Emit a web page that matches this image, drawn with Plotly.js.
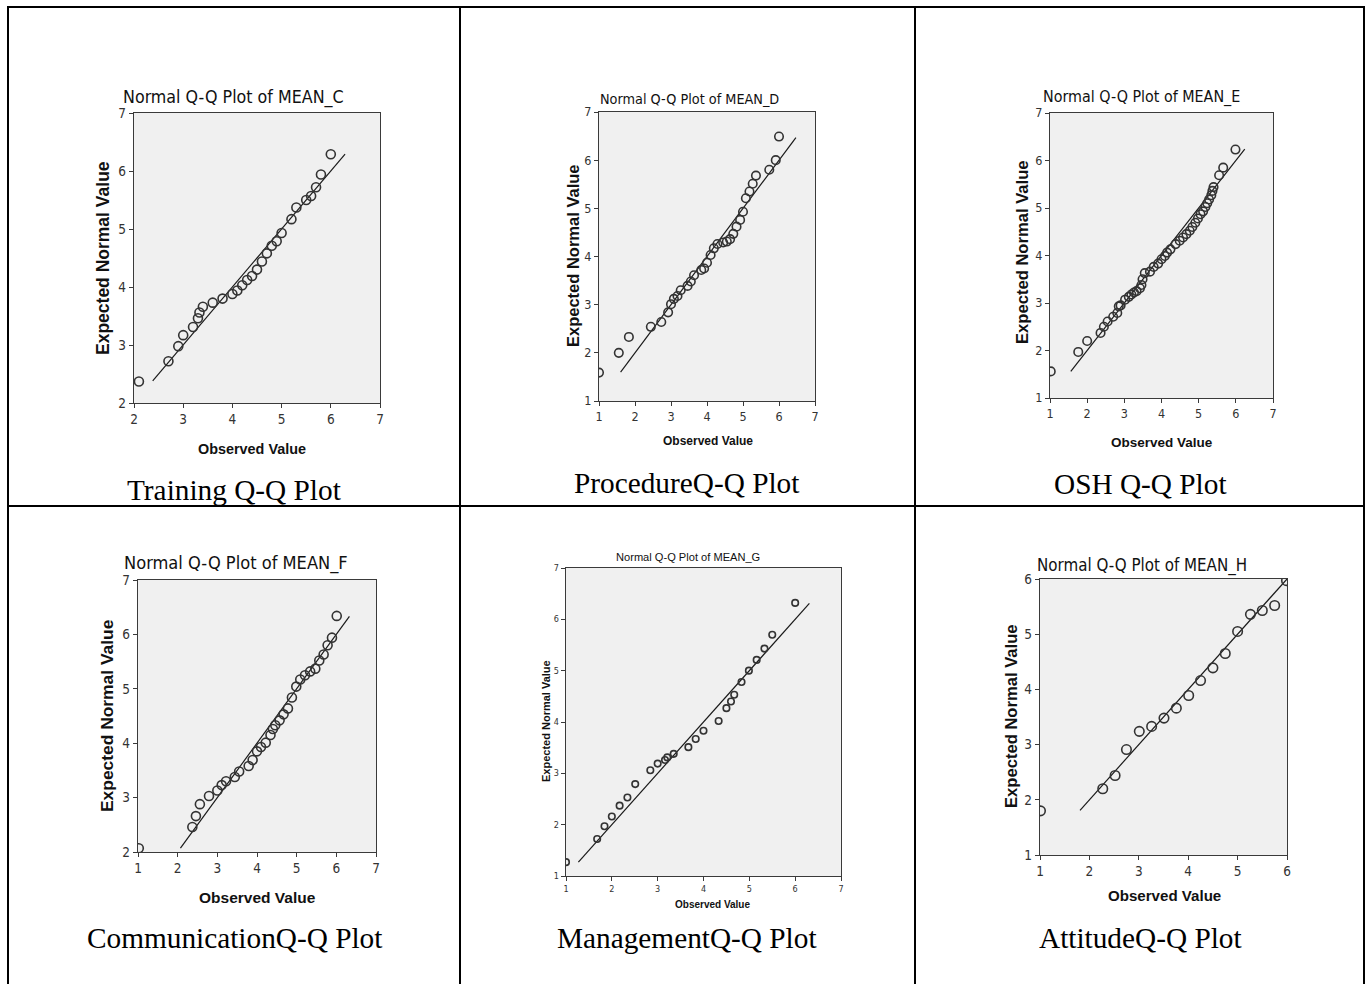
<!DOCTYPE html>
<html>
<head>
<meta charset="utf-8">
<script src="https://cdn.plot.ly/plotly-3.0.1.min.js"></script>
<style>
  html, body { margin: 0; padding: 0; background: #ffffff; }
  #chart { width: 1366px; height: 984px; }
</style>
</head>
<body>
<div id="chart"></div>
<script>
// ---------------- DATA ----------------
// Training (MEAN_C)
const trainingObs = [2.1, 2.7, 2.9, 3.0, 3.2, 3.3, 3.33, 3.4, 3.6, 3.8, 4.0, 4.1, 4.2, 4.3, 4.4, 4.5, 4.6, 4.7, 4.8, 4.9, 5.0, 5.2, 5.3, 5.5, 5.6, 5.7, 5.8, 6.0];
const trainingExp = [2.37, 2.72, 2.98, 3.17, 3.31, 3.46, 3.56, 3.66, 3.73, 3.80, 3.88, 3.94, 4.03, 4.12, 4.19, 4.30, 4.44, 4.58, 4.71, 4.79, 4.93, 5.17, 5.37, 5.50, 5.57, 5.72, 5.94, 6.29];
const trainingLine = [2.38, 6.29];

// Procedure (MEAN_D)
const procedureObs = [1.0, 1.55, 1.83, 2.44, 2.73, 2.92, 3.0, 3.08, 3.18, 3.27, 3.46, 3.55, 3.64, 3.84, 3.92, 4.0, 4.1, 4.19, 4.29, 4.45, 4.55, 4.64, 4.73, 4.82, 4.92, 5.0, 5.08, 5.18, 5.27, 5.36, 5.73, 5.91, 6.0];
const procedureExp = [1.59, 2.0, 2.33, 2.54, 2.64, 2.84, 3.01, 3.12, 3.18, 3.30, 3.39, 3.48, 3.61, 3.72, 3.75, 3.87, 4.03, 4.17, 4.26, 4.29, 4.31, 4.36, 4.47, 4.62, 4.76, 4.93, 5.21, 5.35, 5.51, 5.68, 5.80, 6.0, 6.49];
const procedureLine = [1.60, 6.47];

// OSH (MEAN_E)
const oshObs = [1.02, 1.76, 2.0, 2.36, 2.45, 2.55, 2.7, 2.81, 2.85, 2.9, 3.02, 3.12, 3.19, 3.26, 3.33, 3.42, 3.46, 3.49, 3.55, 3.69, 3.79, 3.91, 4.0, 4.09, 4.15, 4.24, 4.38, 4.49, 4.58, 4.67, 4.76, 4.83, 4.91, 4.98, 5.05, 5.12, 5.18, 5.23, 5.28, 5.34, 5.37, 5.4, 5.55, 5.66, 5.99];
const oshExp = [1.56, 1.97, 2.2, 2.37, 2.5, 2.61, 2.71, 2.79, 2.93, 2.95, 3.07, 3.13, 3.18, 3.22, 3.25, 3.31, 3.38, 3.5, 3.63, 3.66, 3.76, 3.83, 3.92, 3.99, 4.06, 4.13, 4.24, 4.31, 4.38, 4.45, 4.52, 4.60, 4.69, 4.78, 4.87, 4.93, 5.02, 5.1, 5.18, 5.27, 5.36, 5.44, 5.69, 5.85, 6.23];
const oshLine = [1.56, 6.24];

// Communication (MEAN_F)
const communicationObs = [1.02, 2.37, 2.46, 2.56, 2.79, 3.0, 3.11, 3.22, 3.44, 3.55, 3.79, 3.89, 4.0, 4.1, 4.22, 4.34, 4.4, 4.46, 4.57, 4.67, 4.78, 4.88, 4.99, 5.09, 5.21, 5.34, 5.47, 5.57, 5.68, 5.78, 5.89, 6.01];
const communicationExp = [2.07, 2.46, 2.66, 2.88, 3.03, 3.13, 3.23, 3.30, 3.38, 3.48, 3.58, 3.69, 3.85, 3.93, 4.01, 4.15, 4.26, 4.33, 4.42, 4.53, 4.64, 4.84, 5.04, 5.17, 5.25, 5.32, 5.37, 5.52, 5.63, 5.80, 5.94, 6.34];
const communicationLine = [2.07, 6.33];

// Management (MEAN_G)
const managementObs = [1.0, 1.68, 1.84, 2.0, 2.17, 2.34, 2.51, 2.84, 3.0, 3.16, 3.21, 3.35, 3.67, 3.83, 4.0, 4.33, 4.5, 4.6, 4.67, 4.83, 4.99, 5.16, 5.33, 5.5, 6.0];
const managementExp = [1.27, 1.72, 1.97, 2.16, 2.37, 2.53, 2.79, 3.06, 3.19, 3.26, 3.31, 3.38, 3.51, 3.67, 3.83, 4.02, 4.27, 4.40, 4.53, 4.78, 5.0, 5.21, 5.43, 5.7, 6.32];
const managementLine = [1.27, 6.31];

// Attitude (MEAN_H)
const attitudeObs = [1.01, 2.27, 2.52, 2.75, 3.01, 3.26, 3.51, 3.76, 4.01, 4.25, 4.5, 4.75, 5.0, 5.26, 5.5, 5.75, 5.99];
const attitudeExp = [1.8, 2.2, 2.44, 2.91, 3.24, 3.33, 3.48, 3.66, 3.89, 4.16, 4.39, 4.65, 5.05, 5.36, 5.43, 5.52, 5.97];
const attitudeLine = [1.81, 6.0];

const plotTitles = ["Normal Q-Q Plot of MEAN_C", "Normal Q-Q Plot of MEAN_D", "Normal Q-Q Plot of MEAN_E",
                    "Normal Q-Q Plot of MEAN_F", "Normal Q-Q Plot of MEAN_G", "Normal Q-Q Plot of MEAN_H"];
const captions = ["Training Q-Q Plot", "ProcedureQ-Q Plot", "OSH Q-Q Plot",
                  "CommunicationQ-Q Plot", "ManagementQ-Q Plot", "AttitudeQ-Q Plot"];
const xAxisLabel = "Observed Value";
const yAxisLabel = "Expected Normal Value";
const xRanges = [[2, 7], [1, 7], [1, 7], [1, 7], [1, 7], [1, 6]];
const yRanges = [[2, 7], [1, 7], [1, 7], [2, 7], [1, 7], [1, 6]];

// ---------------- LAYOUT (pixel geometry) ----------------
const W = 1366, H = 984;
const px = v => v / W;
const py = v => 1 - v / H;
const NARROW = '"Liberation Sans Narrow", "Arial Narrow", "DejaVu Sans Condensed", sans-serif';
const SANS = '"Liberation Sans", Arial, sans-serif';
const SERIF = '"Liberation Serif", "Times New Roman", serif';

const panels = [
  { obs: trainingObs, exp: trainingExp, line: trainingLine,
    box: [134, 113, 380, 403], title: [233, 97, 17.7], ytl: [103, 258, 17.5], xtl: [252, 449, 14.4], tick: 13.5, ms: 9, cap: [234, 490] },
  { obs: procedureObs, exp: procedureExp, line: procedureLine,
    box: [599, 112, 815, 401], title: [689, 99, 14.3], ytl: [573, 256, 16.5], xtl: [708, 441, 12], tick: 12.5, ms: 8.5, cap: [687, 483] },
  { obs: oshObs, exp: oshExp, line: oshLine,
    box: [1050, 113, 1273, 398], title: [1141, 97, 15.9], ytl: [1022, 252, 16.6], xtl: [1162, 442, 13.5], tick: 12.5, ms: 8.5, cap: [1140, 484] },
  { obs: communicationObs, exp: communicationExp, line: communicationLine,
    box: [138, 580, 376, 852], title: [236, 563, 18.1], ytl: [107, 716, 17.4], xtl: [257, 897, 15.5], tick: 13.5, ms: 9, cap: [234, 938] },
  { obs: managementObs, exp: managementExp, line: managementLine,
    box: [566, 568, 841, 876], title: [688, 557, 11.1], ytl: [546, 721, 11], xtl: [712, 904, 10], tick: 9, ms: 6.5, cap: [687, 938] },
  { obs: attitudeObs, exp: attitudeExp, line: attitudeLine,
    box: [1040, 579, 1287, 855], title: [1142, 565, 16.8], ytl: [1011, 716, 16.6], xtl: [1164, 895, 15.1], tick: 13.5, ms: 9.5, cap: [1140, 938] }
];

const traces = [];
const layout = {
  width: W, height: H,
  margin: { l: 0, r: 0, t: 0, b: 0 },
  paper_bgcolor: '#ffffff',
  showlegend: false,
  annotations: [],
  shapes: []
};

panels.forEach((p, i) => {
  const n = i + 1;
  const xa = 'xaxis' + (n === 1 ? '' : n), ya = 'yaxis' + (n === 1 ? '' : n);
  const xr = 'x' + (n === 1 ? '' : n), yr = 'y' + (n === 1 ? '' : n);
  const axisCommon = {
    showgrid: false, zeroline: false,
    showline: true, mirror: true, linecolor: '#3a3a3a', linewidth: 1.2,
    ticks: 'outside', ticklen: 4, tickcolor: '#3a3a3a', tickwidth: 1,
    dtick: 1, fixedrange: true,
    tickfont: { family: NARROW, size: p.tick, color: '#333333' }
  };
  layout[xa] = Object.assign({}, axisCommon, {
    domain: [px(p.box[0]), px(p.box[2])], range: xRanges[i], tick0: xRanges[i][0],
    anchor: yr, ticklabelstandoff: 0
  });
  layout[ya] = Object.assign({}, axisCommon, {
    domain: [py(p.box[3]), py(p.box[1])], range: yRanges[i], tick0: yRanges[i][0],
    anchor: xr, ticklabelstandoff: 0
  });
  // plot background box
  layout.shapes.push({ type: 'rect', xref: 'paper', yref: 'paper', layer: 'below',
    x0: px(p.box[0]), x1: px(p.box[2]), y0: py(p.box[3]), y1: py(p.box[1]),
    fillcolor: '#f0f0f0', line: { width: 0 } });

  traces.push({
    type: 'scatter', mode: 'lines', xaxis: xr, yaxis: yr,
    x: p.line, y: p.line,
    line: { color: '#1a1a1a', width: 1.2 }, hoverinfo: 'skip'
  });
  traces.push({
    type: 'scatter', mode: 'markers', xaxis: xr, yaxis: yr,
    x: p.obs, y: p.exp,
    marker: { symbol: 'circle-open', size: p.ms, color: '#333333', line: { width: 1.6, color: '#333333' } }
  });

  const g = (n === 5);
  layout.annotations.push({
    xref: 'paper', yref: 'paper', x: px(p.title[0]), y: py(p.title[1]),
    xanchor: 'center', yanchor: 'middle', showarrow: false,
    text: plotTitles[i], font: { family: g ? SANS : NARROW, size: p.title[2], color: '#111111' }
  });
  layout.annotations.push({
    xref: 'paper', yref: 'paper', x: px(p.ytl[0]), y: py(p.ytl[1]),
    xanchor: 'center', yanchor: 'middle', showarrow: false, textangle: -90,
    text: '<b>' + yAxisLabel + '</b>', font: { family: SANS, size: p.ytl[2], color: '#111111' }
  });
  layout.annotations.push({
    xref: 'paper', yref: 'paper', x: px(p.xtl[0]), y: py(p.xtl[1]),
    xanchor: 'center', yanchor: 'middle', showarrow: false,
    text: '<b>' + xAxisLabel + '</b>', font: { family: SANS, size: p.xtl[2], color: '#111111' }
  });
  layout.annotations.push({
    xref: 'paper', yref: 'paper', x: px(p.cap[0]), y: py(p.cap[1]),
    xanchor: 'center', yanchor: 'middle', showarrow: false,
    text: captions[i], font: { family: SERIF, size: 29.3, color: '#000000' }
  });
});

// table grid lines
const gridV = [8, 460, 915, 1364];
const gridH = [7, 506];
gridV.forEach(x => layout.shapes.push({ type: 'line', xref: 'paper', yref: 'paper',
  x0: px(x), x1: px(x), y0: py(6), y1: py(990), line: { color: '#000000', width: 2 } }));
gridH.forEach(y => layout.shapes.push({ type: 'line', xref: 'paper', yref: 'paper',
  x0: px(7), x1: px(1365), y0: py(y), y1: py(y), line: { color: '#000000', width: 2 } }));

Plotly.newPlot('chart', traces, layout, { displayModeBar: false, staticPlot: true });
</script>
</body>
</html>
